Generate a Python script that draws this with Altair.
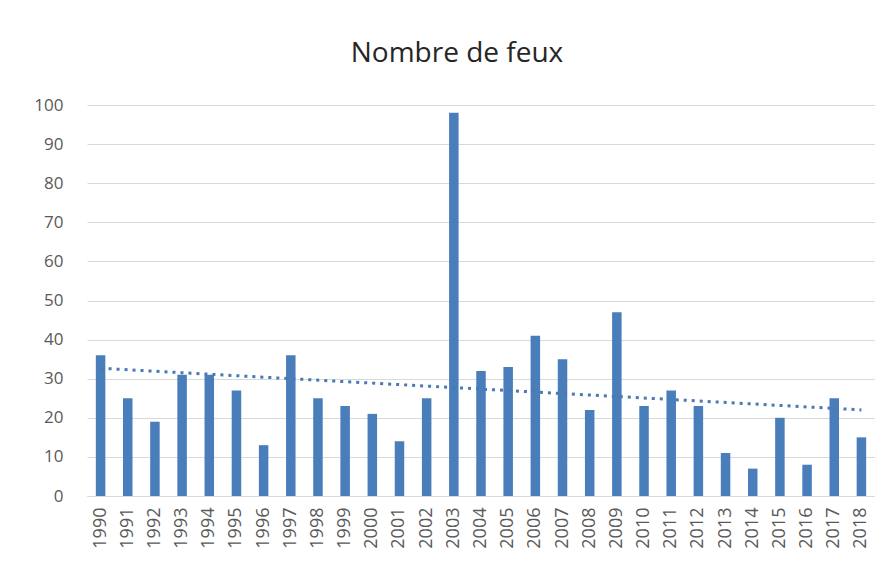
import altair as alt
import pandas as pd

annees = [1990, 1991, 1992, 1993, 1994, 1995, 1996, 1997, 1998, 1999,
          2000, 2001, 2002, 2003, 2004, 2005, 2006, 2007, 2008, 2009,
          2010, 2011, 2012, 2013, 2014, 2015, 2016, 2017, 2018]
feux = [36, 25, 19, 31, 31, 27, 13, 36, 25, 23,
        21, 14, 25, 98, 32, 33, 41, 35, 22, 47,
        23, 27, 23, 11, 7, 20, 8, 25, 15]
y_ticks = [0, 10, 20, 30, 40, 50, 60, 70, 80, 90, 100]
titre = "Nombre de feux"

df = pd.DataFrame({"annee": annees, "feux": feux})

FONT = "Open Sans"
LABEL = "#595959"
GRID = "#d9d9d9"
BAR = "#4a7ebb"

x_enc = alt.X(
    "annee:O",
    title=None,
    sort=annees,
    scale=alt.Scale(paddingInner=0.65, paddingOuter=0.325),
    axis=alt.Axis(labelAngle=-90, labelFontSize=18, labelColor=LABEL, labelFont=FONT,
                  domainColor=GRID, domainWidth=1, ticks=False, tickSize=0,
                  labelPadding=11, grid=False, labelOverlap=False),
)
y_enc = alt.Y(
    "feux:Q",
    title=None,
    scale=alt.Scale(domain=[0, 100], nice=False),
    axis=alt.Axis(values=y_ticks, tickCount=len(y_ticks) + 1, labelFontSize=17,
                  labelColor=LABEL, labelFont=FONT, domain=False, ticks=False, tickSize=0,
                  labelPadding=24, gridColor=GRID, gridWidth=1, labelOverlap=False),
)

base = alt.Chart(df)
bars = base.mark_bar(color=BAR).encode(x=x_enc, y=y_enc)
trend = (
    base.transform_regression("annee", "feux", method="linear")
    .mark_line(color="#4a78b0", strokeWidth=3, strokeDash=[3, 5])
    .encode(x=x_enc, y=y_enc)
)

chart = (
    alt.layer(bars, trend)
    .properties(
        width=788,
        height=391,
        autosize=alt.AutoSizeParams(type="none"),
        padding={"left": 79, "top": 97, "right": 0, "bottom": 60},
        title=alt.TitleParams(titre, font=FONT, fontSize=28, fontWeight="normal",
                              color="#262626", anchor="middle", baseline="alphabetic",
                              offset=6, dx=-24),
        background="white",
    )
    .configure_view(stroke=None)
)

chart.save("out.html", embed_options={"renderer": "svg", "actions": False})
